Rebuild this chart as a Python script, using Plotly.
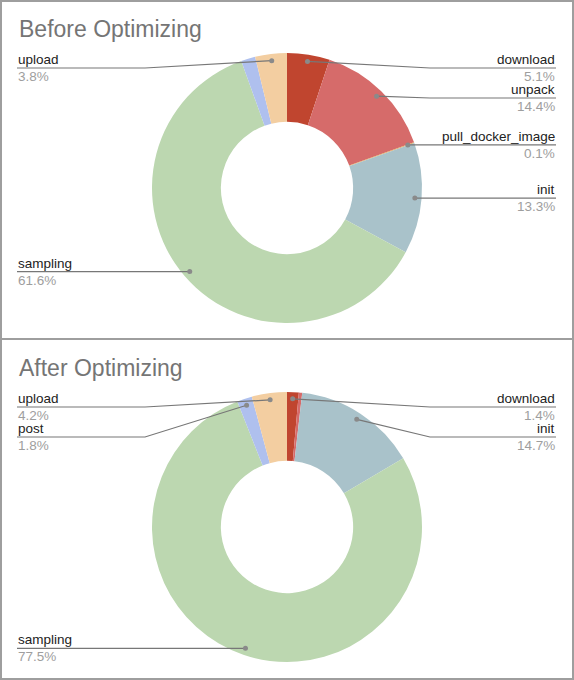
import math
import plotly.graph_objects as go

# Дані (частки часу, %)
stages = ['download', 'unpack', 'pull_docker_image', 'init', 'sampling', 'post', 'upload']
before_values = [5.1, 14.4, 0.1, 13.3, 61.6, 1.7, 3.8]
after_values = [1.4, 0.4, 0.0, 14.7, 77.5, 1.8, 4.2]
before_shown = ['download', 'unpack', 'pull_docker_image', 'init', 'sampling', 'upload']
after_shown = ['download', 'init', 'sampling', 'post', 'upload']
titles = ['Before Optimizing', 'After Optimizing']

colors = ['#C0452F', '#D66B6A', '#E3A857', '#A9C2CA', '#BCD7B0', '#AFC0EE', '#F3CEA1']

W, H = 574, 680
PANEL_H = 339
R = 135
HOLE = 0.49
FONT = 'Arial, Liberation Sans, sans-serif'


def px(x):
    return x / W


def py(y):
    return 1 - y / H


fig = go.Figure()
shapes = []
annotations = []

for k, (values, shown, title) in enumerate(zip([before_values, after_values],
                                                [before_shown, after_shown], titles)):
    top = k * PANEL_H
    cx, cy = 287, top + 188

    fig.add_trace(go.Pie(
        labels=stages, values=values, hole=HOLE, sort=False, direction='clockwise',
        rotation=0, textinfo='none', hoverinfo='label+percent', showlegend=False,
        marker=dict(colors=colors, line=dict(width=0)),
        domain=dict(x=[px(cx - R), px(cx + R)], y=[py(cy + R), py(cy - R)]),
    ))

    # панель
    shapes.append(dict(type='rect', xref='paper', yref='paper',
                       x0=px(1), x1=px(W - 1), y0=py(top + 1 if k == 0 else top),
                       y1=py(top + PANEL_H if k == 0 else H - 1),
                       line=dict(color='#9e9e9e', width=2), layer='below'))
    annotations.append(dict(text=title, x=px(17), y=py(top + 29), xref='paper', yref='paper',
                            xanchor='left', yanchor='middle', showarrow=False,
                            font=dict(family=FONT, size=23, color='#757575')))

    # підписи з виносками
    total = sum(values)
    acc = 0
    items = {'left': [], 'right': []}
    for name, v in zip(stages, values):
        mid = (acc + v / 2) / total * 2 * math.pi
        acc += v
        if name not in shown:
            continue
        dx = cx + 0.95 * R * math.sin(mid)
        dy = cy - 0.95 * R * math.cos(mid)
        side = 'left' if mid > math.pi else 'right'
        items[side].append((dy, dx, name, v / total * 100))

    for side, lst in items.items():
        lst.sort()
        prev = None
        for dy, dx, name, pct in lst:
            ly = max(dy, top + 68)
            if prev is not None:
                ly = max(ly, prev + 30)
            prev = ly
            if side == 'left':
                bend, edge, anchor = cx - R - 7, 17, 'left'
            else:
                bend, edge, anchor = cx + R + 8, 556, 'right'
            shapes.append(dict(type='path', xref='paper', yref='paper', layer='above',
                               path=f'M {px(dx)} {py(dy)} L {px(bend)} {py(ly)} L {px(edge)} {py(ly)}',
                               line=dict(color='#777777', width=1.2)))
            shapes.append(dict(type='circle', xref='paper', yref='paper', layer='above',
                               x0=px(dx - 2.5), x1=px(dx + 2.5), y0=py(dy + 2.5), y1=py(dy - 2.5),
                               fillcolor='#8a8a8a', line=dict(width=0)))
            annotations.append(dict(text=name, x=px(edge), y=py(ly - 8.5), xref='paper', yref='paper',
                                    xanchor=anchor, yanchor='middle', showarrow=False, borderpad=0,
                                    font=dict(family=FONT, size=13.5, color='#222222')))
            annotations.append(dict(text=f'{pct:.1f}%', x=px(edge), y=py(ly + 8.5), xref='paper',
                                    yref='paper', xanchor=anchor, yanchor='middle', showarrow=False,
                                    borderpad=0, font=dict(family=FONT, size=13.5, color='#9e9e9e')))

fig.update_layout(width=W, height=H, margin=dict(l=0, r=0, t=0, b=0),
                  paper_bgcolor='white', plot_bgcolor='white',
                  shapes=shapes, annotations=annotations)
# прибираємо стандартний відступ сторінки
fig.write_html('out.html', config={'displayModeBar': False},
               post_script="document.body.style.margin='0';")
